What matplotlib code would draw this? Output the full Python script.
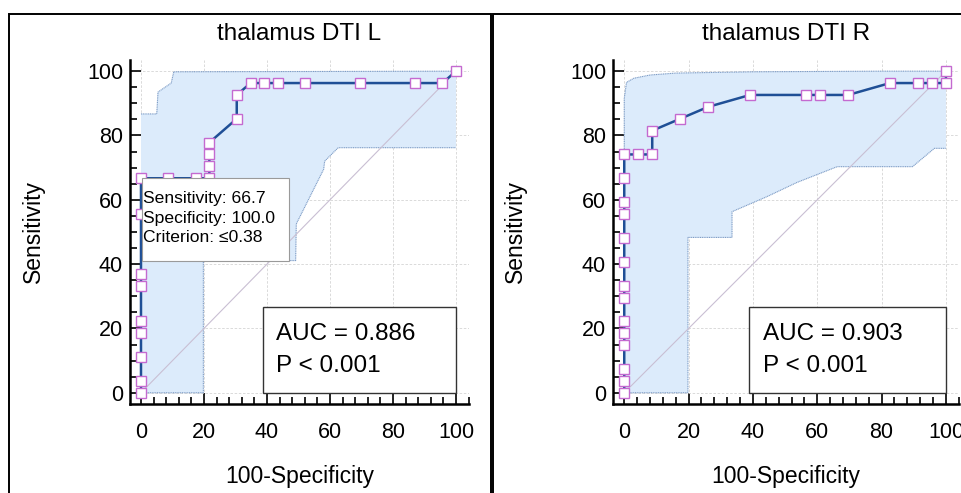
import matplotlib
matplotlib.use("Agg")
import matplotlib.pyplot as plt
from matplotlib.patches import Rectangle, Polygon
from matplotlib.ticker import MultipleLocator

plt.rcParams['font.family'] = ['Liberation Sans', 'DejaVu Sans']

# ---- dados: curva ROC (100-especificidade, sensibilidade) ----
fpr_L = [0, 0, 0, 0, 0, 0, 0, 0, 0, 8.7, 17.4, 21.7, 21.7, 21.7, 21.7,
         30.4, 30.4, 34.8, 39.1, 43.5, 52.2, 69.6, 87.0, 95.7, 100]
sens_L = [0, 3.7, 11.1, 18.5, 22.2, 33.3, 37.0, 55.6, 66.7, 66.7, 66.7, 66.7, 70.4, 74.1, 77.8,
          85.2, 92.6, 96.3, 96.3, 96.3, 96.3, 96.3, 96.3, 96.3, 100]

fpr_R = [0, 0, 0, 0, 0, 0, 0, 0, 0, 0, 0, 0, 0, 0, 4.3, 8.7, 8.7,
         17.4, 26.1, 39.1, 56.5, 60.9, 69.6, 82.6, 91.3, 95.7, 100, 100]
sens_R = [0, 3.7, 7.4, 14.8, 18.5, 22.2, 29.6, 33.3, 40.7, 48.1, 55.6, 59.3, 66.7, 74.1, 74.1, 74.1, 81.5,
          85.2, 88.9, 92.6, 92.6, 92.6, 92.6, 96.3, 96.3, 96.3, 96.3, 100]

# intervalo de confiança (limite superior e inferior)
ci_up_x_L = [0, 5.0, 5.4, 9.6, 10.4, 100]
ci_up_y_L = [86.7, 86.7, 93.5, 96.3, 99.8, 100]
ci_lo_x_L = [0, 19.8, 19.8, 49.1, 49.3, 58.0, 58.3, 62.6, 100]
ci_lo_y_L = [0, 0, 41.1, 41.1, 52.5, 69.5, 72.0, 76.2, 76.2]

ci_up_x_R = [0, 0, 0.7, 3, 8, 16, 40, 80, 100]
ci_up_y_R = [0, 91.5, 96.5, 97.8, 98.8, 99.4, 99.8, 100, 100]
ci_lo_x_R = [0, 19.8, 19.8, 33.5, 33.5, 44.4, 53.7, 66.2, 89.6, 96.4, 100]
ci_lo_y_R = [0, 0, 48.3, 48.3, 56.3, 61.0, 65.4, 70.3, 70.3, 76.0, 76.0]

titulos = ["thalamus DTI L", "thalamus DTI R"]
auc_txt = ["AUC = 0.886\nP < 0.001", "AUC = 0.903\nP < 0.001"]
tooltip_L = "Sensitivity: 66.7\nSpecificity: 100.0\nCriterion: \u22640.38"

fig = plt.figure(figsize=(9.62, 4.93), dpi=100)

# molduras dos painéis
fig.patches.append(Rectangle((0.0094, -0.02), 0.501, 0.9916, transform=fig.transFigure,
                             fill=False, lw=1.4, ec="black"))
fig.patches.append(Rectangle((0.5125, -0.02), 0.52, 0.9916, transform=fig.transFigure,
                             fill=False, lw=1.4, ec="black"))

ax1 = fig.add_axes([0.1351, 0.1805, 0.352, 0.698])
ax2 = fig.add_axes([0.6372, 0.1805, 0.3595, 0.698])

dados = [(ax1, fpr_L, sens_L, ci_up_x_L, ci_up_y_L, ci_lo_x_L, ci_lo_y_L),
         (ax2, fpr_R, sens_R, ci_up_x_R, ci_up_y_R, ci_lo_x_R, ci_lo_y_R)]

for i, (ax, fx, sy, ux, uy, lx, ly) in enumerate(dados):
    ax.set_xlim(-3.5, 104)
    ax.set_ylim(-3.5, 103.5)

    # faixa do IC
    pts = list(zip(ux, uy)) + list(zip(lx, ly))[::-1]
    ax.add_patch(Polygon(pts, closed=True, fc="#dcebfb", ec="none", zorder=1))
    ax.plot(ux, uy, color="#7d9cc6", lw=0.8, ls=(0, (1, 0.6)), zorder=2)
    ax.plot(lx, ly, color="#7d9cc6", lw=0.8, ls=(0, (1, 0.6)), zorder=2)

    # diagonal
    ax.plot([0, 100], [0, 100], color="#c9bfd3", lw=0.8, zorder=2)

    # curva ROC
    ax.plot(fx, sy, color="#1f4f96", lw=1.8, marker="s", ms=6.5,
            mfc="white", mec="#c46ad0", mew=1.0, zorder=4, clip_on=False)

    ax.grid(True, color="#d4d4d4", ls=(0, (3, 2)), lw=0.6)
    ax.set_axisbelow(True)
    ax.xaxis.set_major_locator(MultipleLocator(20))
    ax.xaxis.set_minor_locator(MultipleLocator(4))
    ax.yaxis.set_major_locator(MultipleLocator(20))
    ax.yaxis.set_minor_locator(MultipleLocator(5))
    ax.tick_params(which="both", direction="in", width=1.2, colors="black")
    ax.tick_params(which="major", length=8)
    ax.tick_params(which="minor", length=5)
    ax.tick_params(axis="x", pad=13, labelsize=15.5)
    ax.tick_params(axis="y", pad=5, labelsize=15.5)
    for s in ["top", "right"]:
        ax.spines[s].set_visible(False)
    for s in ["left", "bottom"]:
        ax.spines[s].set_linewidth(1.8)

    ax.set_title(titulos[i], fontsize=17.5, pad=14)
    ax.set_xlabel("100-Specificity", fontsize=16.5)
    ax.set_ylabel("Sensitivity", fontsize=16.5)
    ax.xaxis.set_label_coords(0.5, -0.178)
    ax.yaxis.set_label_coords(-0.25, 0.5)

    # caixa AUC
    ax.add_patch(Rectangle((38.7, 0), 61.3, 26.7, fc="white", ec="#333333", lw=1.0, zorder=5))
    ax.text(43, 13.3, auc_txt[i], fontsize=17.5, va="center", ha="left",
            linespacing=1.55, zorder=6)

# tooltip do painel esquerdo
ax1.add_patch(Rectangle((0.2, 41.0), 46.8, 25.8, fc="white", ec="#9a9a9a", lw=0.8, zorder=5))
ax1.text(0.5, 54.3, tooltip_L, fontsize=12.6, va="center", ha="left", linespacing=1.38, zorder=6)

plt.savefig("out.png", dpi=100)
plt.close()
